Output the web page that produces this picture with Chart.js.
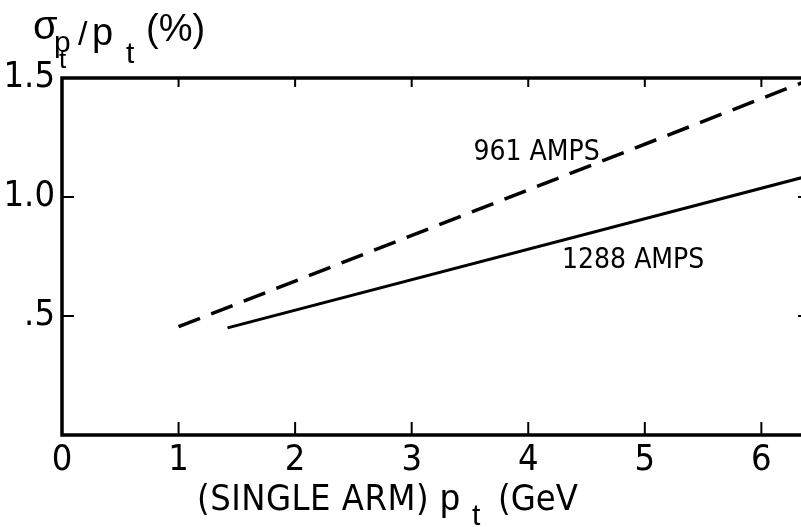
<!DOCTYPE html>
<html>
<head>
<meta charset="utf-8">
<script src="https://cdn.jsdelivr.net/npm/chart.js@4.4.0/dist/chart.umd.min.js"></script>
<style>
  html, body { margin: 0; padding: 0; background: #fff; overflow: hidden; }
  #wrap { position: relative; width: 801px; height: 527px; }
</style>
</head>
<body>
<div id="wrap"><canvas id="chart"></canvas></div>
<script>
// resolution vs transverse momentum for the two magnet currents
const xTicks = [0, 1, 2, 3, 4, 5, 6];
const yTicks = [0.5, 1.0, 1.5];
const yTickLabels = ['.5', '1.0', '1.5'];

const pt961 = [1.0, 6.40];
const res961 = [0.455, 1.49];
const pt1288 = [1.42, 6.40];
const res1288 = [0.45, 1.088];

// the right-hand frame edge sits just past the visible area
const X_VISIBLE_MAX = 6.34;
const X_FRAME_MAX = 6.40;

const NARROW = '"Liberation Sans Narrow", "DejaVu Sans Condensed", sans-serif';
const WIDE = '"Liberation Sans", "DejaVu Sans", sans-serif';

function toPoints(xs, ys) {
  return xs.map((x, i) => ({ x: x, y: ys[i] }));
}

function text(ctx, str, x, y, size, family, spacing) {
  ctx.font = size + 'px ' + family;
  ctx.letterSpacing = (spacing || 0) + 'px';
  ctx.fillText(str, x, y);
}

const framePlugin = {
  id: 'frame',
  afterDraw(chart) {
    const { ctx, chartArea: a, scales: { x, y } } = chart;
    const right = x.getPixelForValue(X_FRAME_MAX);
    ctx.save();
    ctx.strokeStyle = '#000';
    ctx.fillStyle = '#000';

    // box: top, left and bottom edges
    ctx.lineWidth = 3.5;
    ctx.beginPath();
    ctx.moveTo(right, a.top);
    ctx.lineTo(a.left, a.top);
    ctx.lineTo(a.left, a.bottom);
    ctx.lineTo(right, a.bottom);
    ctx.stroke();

    // inward tick marks
    ctx.lineWidth = 2;
    ctx.beginPath();
    xTicks.forEach(v => {
      if (v === 0) return;
      const px = x.getPixelForValue(v);
      ctx.moveTo(px, a.bottom);
      ctx.lineTo(px, a.bottom - 13);
      ctx.moveTo(px, a.top);
      ctx.lineTo(px, a.top + 9);
    });
    yTicks.forEach(v => {
      if (v >= 1.5) return;
      const py = y.getPixelForValue(v);
      ctx.moveTo(a.left, py);
      ctx.lineTo(a.left + 12, py);
      ctx.moveTo(right, py);
      ctx.lineTo(right - 10, py);
    });
    ctx.stroke();

    ctx.textAlign = 'left';
    ctx.textBaseline = 'alphabetic';

    // y title: sigma_{p_t} / p_t (%)
    text(ctx, 'σ', 33, 39, 40, WIDE);
    text(ctx, 'p', 54, 52, 30, WIDE);
    text(ctx, 't', 59, 68, 26, WIDE);
    text(ctx, '/', 78, 45, 34, WIDE);
    text(ctx, 'p', 92, 45, 38, WIDE);
    text(ctx, 't', 126, 63, 30, WIDE);
    text(ctx, '(%)', 146, 41, 38, WIDE);

    // x title
    text(ctx, '(SINGLE ARM)', 197, 510, 36, NARROW, 0.5);
    text(ctx, 'p', 440, 510, 36, WIDE);
    text(ctx, 't', 472, 525, 30, WIDE);
    text(ctx, '(GeV', 498, 510, 36, NARROW);

    // curve labels
    text(ctx, '961 AMPS', x.getPixelForValue(3.53), y.getPixelForValue(1.155), 28, NARROW);
    text(ctx, '1288 AMPS', x.getPixelForValue(4.29), y.getPixelForValue(0.70), 28, NARROW);

    ctx.restore();
  }
};

new Chart(document.getElementById('chart'), {
  type: 'line',
  data: {
    datasets: [
      {
        label: '961 AMPS',
        data: toPoints(pt961, res961),
        borderColor: '#000',
        borderWidth: 3.5,
        borderDash: [23, 12],
        pointRadius: 0,
        tension: 0
      },
      {
        label: '1288 AMPS',
        data: toPoints(pt1288, res1288),
        borderColor: '#000',
        borderWidth: 3,
        pointRadius: 0,
        tension: 0
      }
    ]
  },
  options: {
    responsive: true,
    maintainAspectRatio: false,
    animation: false,
    devicePixelRatio: 1,
    layout: { padding: { top: 78, right: 0, left: 0, bottom: 0 } },
    plugins: { legend: { display: false }, tooltip: { enabled: false } },
    scales: {
      x: {
        type: 'linear',
        min: 0,
        max: X_VISIBLE_MAX,
        grid: { display: false, drawTicks: false },
        border: { display: false },
        afterBuildTicks: s => { s.ticks = xTicks.map(v => ({ value: v })); },
        afterFit: s => { s.height = 92; },
        ticks: {
          color: '#000',
          padding: 4,
          maxRotation: 0,
          autoSkip: false,
          font: { family: NARROW, size: 36 }
        }
      },
      y: {
        type: 'linear',
        min: 0,
        max: 1.5,
        grid: { display: false, drawTicks: false },
        border: { display: false },
        afterBuildTicks: s => { s.ticks = yTicks.map(v => ({ value: v })); },
        afterFit: s => { s.width = 62; },
        ticks: {
          color: '#000',
          padding: 7,
          font: { family: NARROW, size: 36 },
          callback: (v) => yTickLabels[yTicks.indexOf(v)]
        }
      }
    }
  },
  plugins: [framePlugin]
});
</script>
</body>
</html>
